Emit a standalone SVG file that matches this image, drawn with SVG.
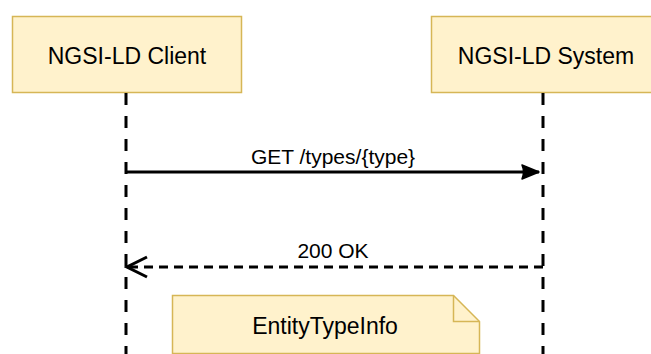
<svg xmlns="http://www.w3.org/2000/svg" width="651" height="354" viewBox="0 0 651 354">
<defs>
<style>
.box{fill:#fff2cc;stroke:#d6b656;stroke-width:1.5}
.t{font-family:"Liberation Sans",Arial,Helvetica,sans-serif;fill:#000;text-anchor:middle}
.life{stroke:#000;stroke-width:3;stroke-dasharray:12 11;fill:none}
.msg{stroke:#000;stroke-width:3;fill:none}
.ret{stroke:#000;stroke-width:3;fill:none;stroke-dasharray:9 6}
</style>
<marker id="block" markerUnits="userSpaceOnUse" markerWidth="20" markerHeight="16" refX="18" refY="8" orient="auto" viewBox="0 0 20 16">
<path d="M1,1 L18,8 L1,15 Q4,8 1,1 Z" fill="#000" stroke="#000" stroke-width="1.5" stroke-linejoin="round"/>
</marker>
<marker id="open" markerUnits="userSpaceOnUse" markerWidth="24" markerHeight="26" refX="21" refY="12" orient="auto" viewBox="0 0 24 26">
<path d="M1,2 L21,12 L1,22" fill="none" stroke="#000" stroke-width="3"/>
</marker>
</defs>
<g id="client">
<rect class="box" x="12.5" y="16.5" width="229" height="76"/>
<text class="t" x="127" y="64" font-size="23">NGSI-LD Client</text>
</g>
<g id="system">
<rect class="box" x="431.5" y="16.5" width="229" height="76"/>
<text class="t" x="546" y="64" font-size="23">NGSI-LD System</text>
</g>
<g id="connectors">
<line class="life" x1="126" y1="93" x2="126" y2="354"/>
<line class="life" x1="543" y1="93" x2="543" y2="354"/>
<line class="msg" x1="126" y1="172" x2="539" y2="172" marker-end="url(#block)"/>
<line class="ret" x1="543" y1="267" x2="127" y2="267" marker-end="url(#open)"/>
<text class="t" x="333" y="164" font-size="21">GET /types/{type}</text>
<text class="t" x="333" y="258" font-size="21">200 OK</text>
</g>
<g id="note">
<path class="box" d="M172.5,295.5 L453.5,295.5 L479.5,321.5 L479.5,353.5 L172.5,353.5 Z"/>
<path d="M453.5,295.5 L453.5,321.5 L479.5,321.5" fill="none" stroke="#d6b656" stroke-width="1.5"/>
<text class="t" x="325" y="334" font-size="23">EntityTypeInfo</text>
</g>
</svg>
